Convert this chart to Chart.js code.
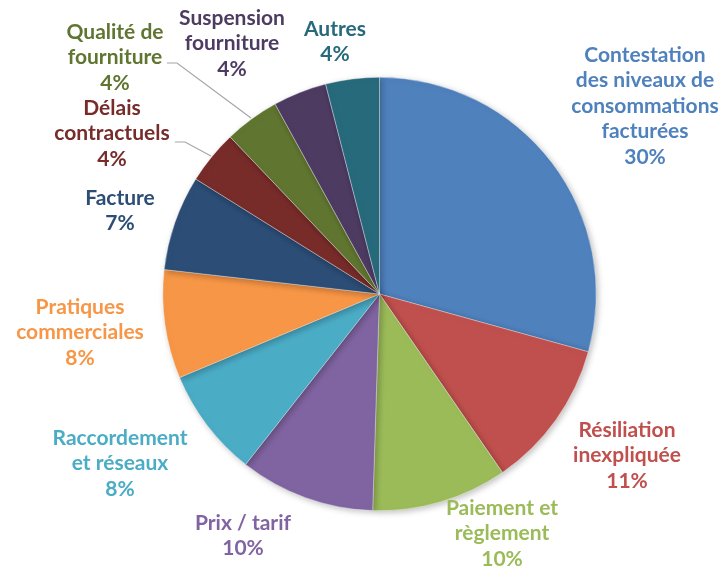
<!DOCTYPE html>
<html>
<head>
<meta charset="utf-8">
<script src="https://cdn.jsdelivr.net/npm/chart.js@4/dist/chart.umd.min.js"></script>
<style>
html,body{margin:0;padding:0;background:#fff;}
#wrap{width:721px;height:566px;position:relative;}
</style>
</head>
<body>
<div id="wrap"><canvas id="c" width="721" height="566"></canvas></div>
<script>
const categories = [
  ["Contestation","des niveaux de","consommations","facturées"],
  ["Résiliation","inexpliquée"],
  ["Paiement et","règlement"],
  ["Prix / tarif"],
  ["Raccordement","et réseaux"],
  ["Pratiques","commerciales"],
  ["Facture"],
  ["Délais","contractuels"],
  ["Qualité de","fourniture"],
  ["Suspension","fourniture"],
  ["Autres"]
];
const values = [29.3, 11.1, 10.1, 10.1, 8.1, 8.1, 7.1, 4.0, 4.1, 4.0, 4.0];
const percentLabels = ["30%","11%","10%","10%","8%","8%","7%","4%","4%","4%","4%"];
const sliceColors = ["#4F81BD","#C0504D","#9BBB59","#8064A2","#4BACC6","#F79646","#2C4D75","#772C2A","#5F7530","#4D3B62","#276A7C"];

// label layout (text block: center x, first line center y)
const labelPos = [
  [645,55],[627,430],[502,508],[243,523],[120,438],[80,307],[120,198],[112,108],[115,32],[232,18],[335,29]
];
const lineH = 25.5;
// leader lines [index, points...]
const leaders = [
  [8, [[167,63],[177,63],[251,118]]],
  [7, [[175,142],[185,142],[211,156]]]
];

const shadowPlugin = {
  id:'shadow',
  beforeDatasetsDraw(chart){
    const ctx = chart.ctx;
    ctx.save();
    ctx.shadowColor = 'rgba(0,0,0,0.25)';
    ctx.shadowBlur = 6;
    ctx.shadowOffsetX = 2;
    ctx.shadowOffsetY = 2;
  },
  afterDatasetsDraw(chart){ chart.ctx.restore(); }
};

const labelPlugin = {
  id:'labels',
  afterDraw(chart){
    const ctx = chart.ctx;
    ctx.save();
    ctx.strokeStyle = '#A6A6A6';
    ctx.lineWidth = 1.2;
    leaders.forEach(([i,pts])=>{
      ctx.beginPath();
      pts.forEach((p,k)=> k?ctx.lineTo(p[0],p[1]):ctx.moveTo(p[0],p[1]));
      ctx.stroke();
    });
    ctx.font = 'bold 21px Lato, "Open Sans", sans-serif';
    ctx.textAlign = 'center';
    ctx.textBaseline = 'middle';
    categories.forEach((lines,i)=>{
      const all = lines.concat([percentLabels[i]]);
      ctx.fillStyle = sliceColors[i];
      all.forEach((t,k)=> ctx.fillText(t, labelPos[i][0], labelPos[i][1] + k*lineH));
    });
    ctx.restore();
  }
};

new Chart(document.getElementById('c'), {
  type:'pie',
  data:{
    labels: categories.map(l=>l.join(' ')),
    datasets:[{
      data: values,
      backgroundColor: sliceColors,
      borderColor:'rgba(255,255,255,0.6)',
      borderWidth:0.6
    }]
  },
  options:{
    responsive:false,
    animation:false,
    layout:{padding:{left:162,right:124,top:77,bottom:55}},
    plugins:{legend:{display:false},tooltip:{enabled:false}}
  },
  plugins:[shadowPlugin,labelPlugin]
});
</script>
</body>
</html>
